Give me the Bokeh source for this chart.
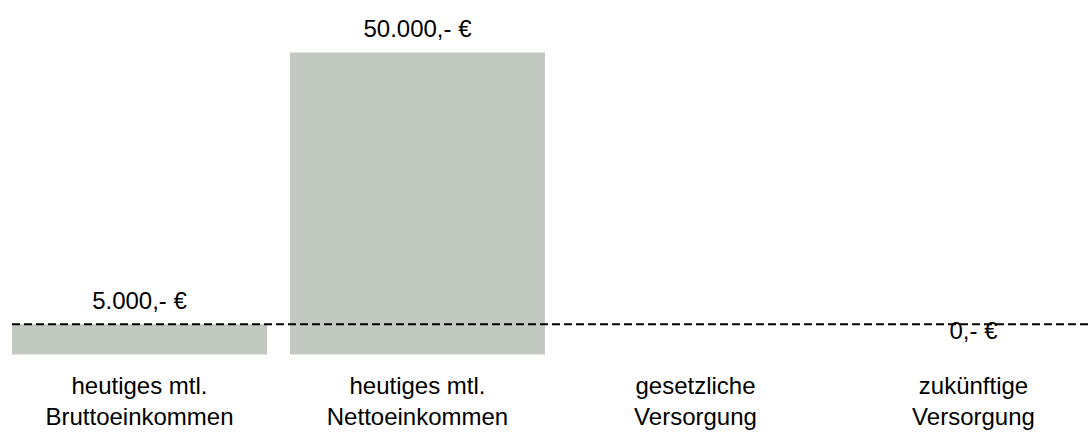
from bokeh.plotting import figure
from bokeh.models import ColumnDataSource, Range1d
from bokeh.core.properties import value
from bokeh.embed import file_html
from bokeh.resources import INLINE

# ---- data ----
categories_line1 = ["heutiges mtl.", "heutiges mtl.", "gesetzliche", "zukünftige"]
categories_line2 = ["Bruttoeinkommen", "Nettoeinkommen", "Versorgung", "Versorgung"]
values = [5000, 50000, 0, 0]
value_labels = ["5.000,- €", "50.000,- €", "", "0,- €"]
reference_value = 5000

W, H = 1092, 437
FONT = "Liberation Sans"
FSIZE = "24px"
BAR_COLOR = "#c1c9c1"

xs = list(range(len(values)))
bar_w = 255 / 278

p = figure(width=W, height=H, output_backend="svg", toolbar_location=None,
           x_axis_location=None, y_axis_location=None,
           x_range=Range1d(-0.5, W / 278 - 0.5),
           y_range=Range1d(-13742, 58609),
           min_border=0, outline_line_color=None)
p.grid.visible = False
p.background_fill_color = "white"
p.border_fill_color = "white"

src = ColumnDataSource(dict(x=xs, top=values, lab=value_labels,
                            l1=categories_line1, l2=categories_line2,
                            zero=[0] * len(xs)))

p.vbar(x="x", top="top", bottom=0, width=bar_w, source=src,
       fill_color=BAR_COLOR, line_color=None)

p.text(x="x", y="top", text="lab", source=src, y_offset=-24,
       text_align="center", text_baseline="alphabetic",
       text_font=value(FONT), text_font_size=FSIZE, text_color="#000000")

p.text(x="x", y="zero", text="l1", source=src, y_offset=31,
       text_align="center", text_baseline="alphabetic",
       text_font=value(FONT), text_font_size=FSIZE, text_color="#000000")
p.text(x="x", y="zero", text="l2", source=src, y_offset=62,
       text_align="center", text_baseline="alphabetic",
       text_font=value(FONT), text_font_size=FSIZE, text_color="#000000")

p.segment(x0=[xs[0] - bar_w / 2], y0=[reference_value],
          x1=[len(xs)], y1=[reference_value],
          line_color="#000000", line_width=2, line_dash="8 4")

open("out.html", "w").write(file_html(p, INLINE))
